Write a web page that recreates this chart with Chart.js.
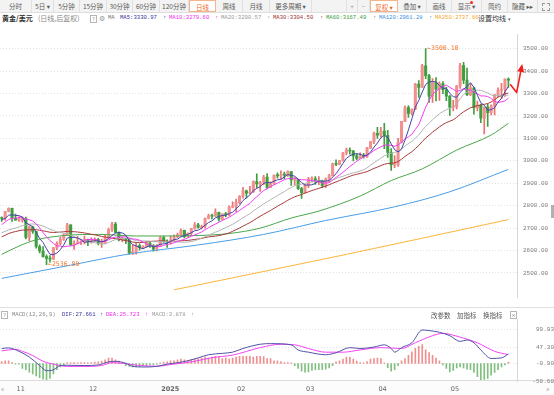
<!DOCTYPE html>
<html><head><meta charset="utf-8">
<script src="https://cdn.jsdelivr.net/npm/chart.js@4.4.1/dist/chart.umd.min.js"></script>
<style>
html,body{margin:0;padding:0;background:#fff;}
body{width:554px;height:395px;position:relative;overflow:hidden;font-family:"Noto Sans CJK SC","DejaVu Sans",sans-serif;}
.a{position:absolute;white-space:nowrap;}
#toolbar{position:absolute;left:0;top:0;width:554px;height:12px;background:#f3f3f3;border-bottom:1px solid #dedede;}
.tab{position:absolute;top:0;height:12px;line-height:12px;font-size:6.5px;color:#5a5a5a;text-align:center;border-right:1px solid #e1e1e1;box-sizing:border-box;}
.tab.on{background:#fff;color:#f26a1f;border:1px solid #f6b48c;}
.mono{font-family:"Liberation Mono","DejaVu Sans Mono",monospace;font-size:5.6px;}
.cjk{font-family:"Noto Sans CJK SC",sans-serif;}
.qbox{position:absolute;width:5px;height:6px;border:1px solid #b5b5b5;font-size:5px;line-height:6px;text-align:center;color:#888;font-family:"DejaVu Sans",sans-serif;}
</style></head>
<body>
<div id="toolbar">
  <div class="tab" style="left:0;width:32px">分时</div>
  <div class="tab" style="left:32px;width:22px">5日 ▾</div>
  <div class="tab" style="left:54px;width:26px">5分钟</div>
  <div class="tab" style="left:80px;width:27px">15分钟</div>
  <div class="tab" style="left:107px;width:26px">30分钟</div>
  <div class="tab" style="left:133px;width:27px">60分钟</div>
  <div class="tab" style="left:160px;width:29px">120分钟</div>
  <div class="tab on" style="left:189px;width:27px">日线</div>
  <div class="tab" style="left:216px;width:27px">周线</div>
  <div class="tab" style="left:243px;width:27px">月线</div>
  <div class="tab" style="left:270px;width:42px">更多周期 ▾</div>
  <div class="tab" style="left:346px;width:12px;border-left:1px solid #e1e1e1;color:#999">+</div>
  <div class="tab" style="left:358px;width:12px;color:#999">−</div>
  <div class="tab on" style="left:370px;width:28px">复权 ▾</div>
  <div class="tab" style="left:398px;width:29px">叠加 ▾</div>
  <div class="tab" style="left:427px;width:25px">画线</div>
  <div class="tab" style="left:452px;width:30px">显示 ▾</div>
  <div class="a" style="left:470px;top:1px;width:3px;height:3px;border-radius:2px;background:#f22"></div>
  <div class="tab" style="left:482px;width:26px">简约</div>
  <div class="tab" style="left:508px;width:30px">隐藏 ▸▸</div>
  <div class="a" style="left:542px;top:3px;width:6px;height:6px;border:1px dashed #999;"></div>
</div>

<div class="a cjk" style="left:2px;top:13px;height:10px;line-height:10px;font-size:7px;color:#333;font-weight:bold">黄金/美元</div>
<div class="a cjk" style="left:38px;top:13px;height:10px;line-height:10px;font-size:7px;color:#888">(日线,后复权)</div>
<div class="qbox" style="left:90px;top:14.5px">?</div>
<div class="a" style="left:99px;top:13px;line-height:10px;font-size:7px;color:#999">⚙</div>
<div class="a mono" style="left:108px;top:13px;line-height:10px;color:#777">MA</div>
<div class="a mono" style="left:120px;top:13px;line-height:10px;color:#3535a0">MA5:3330.97</div>
<div class="a mono" style="left:163px;top:13px;line-height:10px;color:#3535a0">↑</div>
<div class="a mono" style="left:169px;top:13px;line-height:10px;color:#ee2cee">MA10:3279.60</div>
<div class="a mono" style="left:215px;top:13px;line-height:10px;color:#ee2cee">↑</div>
<div class="a mono" style="left:221px;top:13px;line-height:10px;color:#999">MA20:3290.57</div>
<div class="a mono" style="left:267px;top:13px;line-height:10px;color:#999">↑</div>
<div class="a mono" style="left:273px;top:13px;line-height:10px;color:#a03030">MA30:3304.50</div>
<div class="a mono" style="left:320px;top:13px;line-height:10px;color:#a03030">↑</div>
<div class="a mono" style="left:326px;top:13px;line-height:10px;color:#3b9b3b">MA60:3167.49</div>
<div class="a mono" style="left:373px;top:13px;line-height:10px;color:#3b9b3b">↑</div>
<div class="a mono" style="left:379px;top:13px;line-height:10px;color:#3d8fe0">MA120:2961.28</div>
<div class="a mono" style="left:429px;top:13px;line-height:10px;color:#3d8fe0">↑</div>
<div class="a mono" style="left:435px;top:13px;line-height:10px;color:#f5a623">MA250:2737.66</div>
<div class="a cjk" style="left:478px;top:13px;line-height:10px;font-size:7px;color:#333;background:#fff;padding-right:2px">设置均线 <span style="font-size:5px;color:#666">▾</span></div>

<div class="a" style="left:0;top:380px;width:554px;height:15px;background:#fcfcfc;border-top:1px solid #dcdcdc;"></div>
<div class="a" style="left:0;top:307px;width:554px;height:0;border-top:1px solid #e0e0e0;"></div>
<div class="a" style="left:551px;top:205px;width:3px;height:13px;background:#b0b0b0;"></div>

<div class="a" style="left:0;top:25px;width:554px;height:282px"><canvas id="pc" width="554" height="282"></canvas></div>
<div class="a" style="left:0;top:308px;width:554px;height:87px"><canvas id="mc" width="554" height="87"></canvas></div>

<div class="qbox" style="left:1px;top:311px">?</div>
<div class="a mono" style="left:12px;top:310px;line-height:10px;color:#888">MACD(12,26,9)</div>
<div class="a mono" style="left:62px;top:310px;line-height:10px;color:#3535a0">DIF:27.661</div>
<div class="a mono" style="left:100px;top:310px;line-height:10px;color:#3535a0">↑</div>
<div class="a mono" style="left:106px;top:310px;line-height:10px;color:#ee2cee">DEA:25.723</div>
<div class="a mono" style="left:145px;top:310px;line-height:10px;color:#ee2cee">↑</div>
<div class="a mono" style="left:152px;top:310px;line-height:10px;color:#999">MACD:3.878</div>
<div class="a mono" style="left:191px;top:310px;line-height:10px;color:#999">↑</div>
<div class="a cjk" style="left:431px;top:310px;line-height:10px;font-size:6.5px;color:#555">改参数</div>
<div class="a cjk" style="left:457px;top:310px;line-height:10px;font-size:6.5px;color:#555">加指标</div>
<div class="a cjk" style="left:483px;top:310px;line-height:10px;font-size:6.5px;color:#555">换指标</div>
<div class="qbox" style="left:510px;top:311px;color:#777">×</div>
<div class="a" style="left:1px;top:383px;line-height:10px;font-size:7px;color:#999">«</div>
<div class="a" style="left:546px;top:383px;line-height:10px;font-size:7px;color:#999">»</div>

<script>
// ---- data (XAU/USD daily, 2024-10-28 .. 2025-05-26) ----
const opens = [2747,2743,2774,2788,2744,2736,2736,2742,2659,2706,2685,2618,2598,2573,2565,2562,2612,2631,2651,2670,2715,2626,2632,2637,2638,
2650,2639,2643,2650,2632,2633,2660,2694,2718,2681,2648,2652,2646,2590,2595,2622,2613,2618,2633,2621,2606,
2624,2658,2640,2636,2648,2662,2670,2690,2663,2677,2697,2715,2703,2708,2743,2755,2753,2770,2740,2763,2760,2794,
2798,2815,2842,2866,2856,2861,2908,2897,2904,2928,2882,2898,2935,2933,2939,2936,2952,2915,2916,2876,
2858,2893,2918,2920,2910,2910,2890,2917,2934,2987,2984,3001,3035,3048,3044,3022,3011,3020,3019,3057,3085,
3123,3114,3133,3114,3037,2982,2983,3083,3176,3237,3211,3230,3342,3327,3424,3380,3288,3349,3319,3344,3317,
3288,3239,3240,3334,3425,3360,3295,3325,3236,3249,3190,3240,3215,3245,3295,3315,3320,3365];
const highs = [2750,2775,2790,2789,2763,2750,2750,2749,2710,2709,2686,2626,2618,2581,2578,2614,2639,2660,2674,2721,2715,2643,2664,2645,2665,
2651,2657,2657,2654,2651,2671,2700,2726,2726,2684,2660,2655,2652,2625,2633,2630,2622,2639,2639,2627,2627,
2664,2665,2648,2665,2670,2678,2697,2691,2679,2699,2725,2721,2714,2746,2763,2763,2786,2772,2765,2770,2799,2817,
2830,2845,2882,2870,2886,2911,2942,2909,2935,2943,2906,2938,2947,2955,2950,2956,2952,2925,2918,2882,
2895,2927,2929,2930,2930,2914,2924,2940,2990,3005,3002,3038,3057,3058,3047,3032,3036,3033,3060,3087,3128,
3149,3149,3167,3136,3055,3023,3100,3176,3245,3246,3232,3345,3358,3430,3500.10,3386,3367,3371,3352,3353,3328,
3292,3270,3335,3435,3439,3414,3347,3327,3266,3253,3240,3253,3250,3295,3325,3345,3366,3370];
const lows = [2730,2735,2772,2730,2736,2730,2727,2652,2644,2676,2611,2589,2570,2536.89,2548,2560,2604,2625,2645,2667,2623,2605,2631,2626,2630,
2622,2633,2640,2625,2614,2630,2655,2685,2680,2643,2638,2631,2583,2583,2584,2602,2609,2614,2614,2597,2598,
2620,2636,2614,2630,2642,2657,2665,2656,2660,2669,2695,2700,2697,2700,2741,2741,2752,2731,2737,2750,2755,2790,
2772,2809,2834,2834,2853,2859,2880,2864,2894,2875,2881,2895,2923,2918,2920,2930,2890,2893,2873,2833,
2857,2880,2906,2895,2894,2880,2880,2905,2932,2978,2982,2998,3026,3030,3000,3004,3011,3012,3015,3055,3076,
3100,3105,3054,3015,2957,2970,2975,3080,3175,3194,3205,3228,3283,3327,3366,3260,3261,3267,3269,3300,3268,
3202,3222,3231,3323,3344,3290,3290,3208,3222,3170,3120,3154,3205,3205,3285,3277,3287,3327];
const closes = [2743,2774,2788,2744,2736,2736,2742,2659,2706,2685,2618,2598,2573,2565,2562,2612,2631,2651,2670,2715,2626,2632,2637,2638,2650,
2639,2643,2650,2632,2633,2660,2694,2718,2681,2648,2652,2646,2590,2595,2622,2613,2618,2633,2621,2606,2624,
2658,2640,2636,2648,2662,2670,2690,2663,2677,2697,2715,2703,2708,2743,2755,2753,2770,2740,2763,2760,2794,2798,
2815,2842,2866,2856,2861,2908,2897,2904,2928,2882,2898,2935,2933,2939,2936,2952,2915,2916,2876,2858,
2893,2918,2920,2910,2910,2890,2917,2934,2987,2984,3001,3035,3048,3044,3022,3011,3020,3019,3057,3085,3123,
3114,3133,3114,3037,2982,2983,3083,3176,3237,3211,3230,3342,3327,3424,3380,3288,3349,3319,3344,3317,3288,
3239,3240,3334,3425,3360,3295,3325,3236,3249,3190,3240,3215,3245,3295,3315,3320,3365,3360];
// closes of the 29 sessions before the first candle (for the moving averages)
const priorCloses = [2570,2559,2586,2622,2628,2657,2657,2672,2658,2634,2662,2657,2656,2653,2644,2622,2608,2630,2657,2649,2662,2674,2692,2721,2720,2748,2715,2736,2747];
// long moving averages: [candle index, value]
const ma60Pts  = [[0,2583],[5,2620],[10,2648],[19,2668],[28,2672],[39,2665],[47,2665],[57,2667],[66,2676],[75,2700],[84,2745],[92,2776],[104,2843],[113,2912],[122,2964],[132,3048],[142,3115],[147,3167]];
const ma120Pts = [[0,2476],[20,2535],[37,2585],[57,2625],[76,2672],[94,2734],[114,2795],[130,2862],[147,2962]];
const ma250Pts = [[50,2425],[100,2583],[147,2738]];
// MACD
const difPts = [[0,43.6],[2,45.3],[5,35.4],[8,18.9],[11,-5.8],[13,-20.7],[15,-18.2],[17,-6],[19,-5],[24,-5.8],[28,-4.1],[31,4.8],[33,6.5],[36,0.8],[38,-8.3],[41,-10],[45,-8.3],[48,-1.6],[51,2.3],[54,8.2],[57,16.4],[60,25.5],[64,29.5],[67,32.9],[70,43.6],[75,55.9],[78,57.7],[84,54.2],[86,39.4],[89,32.9],[94,25.5],[97,31.2],[101,46.1],[104,43.6],[108,47.8],[111,54.2],[113,43.6],[114,32.9],[116,46.1],[119,60.2],[122,97.2],[124,95.5],[127,90.5],[130,80.7],[133,64.1],[135,68.3],[137,60.2],[139,39.4],[142,14.7],[145,16.4],[147,27.7]];
const deaPts = [[0,36.9],[4,41.1],[6,35.4],[9,23.1],[12,6.5],[15,-1.6],[19,-8.3],[25,-8.3],[29,-5.8],[32,2.3],[35,0.8],[40,-5.8],[45,-7.6],[50,-1.6],[56,6.5],[61,17.1],[67,24.5],[75,46.1],[81,55.9],[85,54.2],[89,43.6],[94,32.9],[99,32.9],[104,39.4],[110,46.1],[116,43.6],[120,60.2],[125,80.7],[128,87.3],[133,76.5],[138,60.2],[143,35.4],[147,25.7]];
const macdHist = [6,8,8,3,-2,-2,-14,-18,-25,-30,-36,-41,-45,-47,-43,-30,-18,-10,-6,
3,2,3,2,3,3,2,3,4,5,7,11,16,16,11,7,3,-6,-8,-10,-10,-8,-6,-6,-4,-3,-2,
2,4,5,8,8,11,13,11,8,11,13,14,16,19,16,19,21,19,14,16,13,16,19,21,21,21,21,19,21,
21,20,14,14,8,8,6,3,3,2,-6,-14,-22,-25,-24,-20,-18,-18,-18,-16,-13,-6,
5,8,13,19,18,13,7,3,2,6,13,14,16,14,2,-12,-22,-18,-6,8,14,24,34,44,50,55,40,32,24,16,8,
-4,-14,-24,-20,-13,-10,-13,-16,-18,-26,-38,-47,-46,-43,-34,-26,-18,-10,-4,4];
const priceTicks = [2500,2600,2700,2800,2900,3000,3100,3200,3300,3400,3500];
const macdTicks = [-50.6,-0.9,47.3,99.93];
const monthIdx = [4,25,46,68,88,109,130];
const monthLabels = ['11','12','2025','02','03','04','05'];
const arrowPath = [[147.5,3341],[149.4,3305],[150.9,3423]];

// ---- build datasets ----
const UP='#f29090', UPW='#ea6f6f', DN='#3f9f3f';
const isUp = i => closes[i] >= opens[i];
const allC = priorCloses.concat(closes);
function ma(n){ return closes.map((c,i)=>{const e=priorCloses.length+i;let s=0;for(let k=e-n+1;k<=e;k++)s+=allC[k];return {x:i,y:s/n};}); }
const pts = a => a.map(([x,y])=>({x,y}));
const lineDs = (data,color,smooth)=>({type:'line',data,borderColor:color,borderWidth:1,pointRadius:0,fill:false,cubicInterpolationMode:smooth?'monotone':'default',tension:0});

const xScale = {type:'linear',min:-0.5,max:149.5,display:false,offset:false};

const priceMarks = {
  id:'priceMarks',
  afterDatasetsDraw(chart){
    const {ctx,scales:{x,y}} = chart;
    ctx.save();
    const hi=Math.max(...highs), hiI=highs.indexOf(hi);
    const lo=Math.min(...lows), loI=lows.indexOf(lo);
    ctx.font='6.5px "DejaVu Sans Mono"'; ctx.fillStyle='#f0782a'; ctx.textBaseline='middle'; ctx.textAlign='left';
    ctx.fillText('←'+hi.toFixed(2), x.getPixelForValue(hiI)+1.5, y.getPixelForValue(hi));
    ctx.fillText('←'+lo.toFixed(2), x.getPixelForValue(loI)+1.5, y.getPixelForValue(lo));
    const p = arrowPath.map(([i,v])=>[x.getPixelForValue(i),y.getPixelForValue(v)]);
    ctx.strokeStyle='#f21d1d'; ctx.fillStyle='#f21d1d'; ctx.lineWidth=1.6; ctx.lineJoin='round';
    ctx.beginPath(); p.forEach(([px,py],k)=>k?ctx.lineTo(px,py):ctx.moveTo(px,py)); ctx.stroke();
    const [ax,ay]=p[p.length-2],[bx,by]=p[p.length-1]; const g=Math.atan2(by-ay,bx-ax);
    const c=Math.cos(g), s=Math.sin(g);
    ctx.beginPath(); ctx.moveTo(bx+c*2,by+s*2); ctx.lineTo(bx-c*6+s*3.5,by-s*6-c*3.5); ctx.lineTo(bx-c*6-s*3.5,by-s*6+c*3.5); ctx.closePath(); ctx.fill();
    ctx.restore();
  }
};

new Chart(document.getElementById('pc'),{
  type:'bar',
  data:{datasets:[
    lineDs(ma(5),'#4343a8',false),
    lineDs(ma(10),'#f23cf2',false),
    lineDs(ma(20),'#b3b3b3',false),
    lineDs(ma(30),'#a83a3a',false),
    lineDs(pts(ma60Pts),'#4aa64a',true),
    lineDs(pts(ma120Pts),'#4a9de6',true),
    lineDs(pts(ma250Pts),'#fcb43a',true),
    {type:'bar',grouped:false,barThickness:2.4,minBarLength:1,
     data:closes.map((c,i)=>({x:i,y:[opens[i],c]})),
     backgroundColor:ctx=>isUp(ctx.dataIndex)?UP:DN},
    {type:'bar',grouped:false,barThickness:1,
     data:closes.map((c,i)=>({x:i,y:[lows[i],highs[i]]})),
     backgroundColor:ctx=>isUp(ctx.dataIndex)?UPW:DN}
  ]},
  options:{responsive:false,animation:false,events:[],
    layout:{padding:{top:0,bottom:2,left:0,right:0}},
    plugins:{legend:{display:false},tooltip:{enabled:false}},
    scales:{
      x:xScale,
      y:{position:'right',min:2391.2,max:3562.8,
        afterBuildTicks:s=>{s.ticks=priceTicks.map(v=>({value:v}));},
        afterFit:s=>{s.width=37;},
        ticks:{padding:6,color:'#7a7a7a',font:{family:'Liberation Mono',size:6},callback:v=>Number(v).toFixed(2)},
        grid:{color:'#e2e2e2',drawTicks:false},
        border:{display:true,color:'#d6d6d6',dash:[1,2]}}
    }},
  plugins:[priceMarks]
});

const monthAxis = {
  id:'monthAxis',
  afterDraw(chart){
    const {ctx,scales:{x}} = chart;
    ctx.save(); ctx.textBaseline='middle'; ctx.textAlign='left'; ctx.fillStyle='#666';
    monthIdx.forEach((i,k)=>{
      ctx.font=(monthLabels[k]==='2025'?'bold ':'')+'6.5px "DejaVu Sans"';
      ctx.fillText(monthLabels[k], x.getPixelForValue(i)+1, 81);
    });
    ctx.restore();
  }
};

new Chart(document.getElementById('mc'),{
  type:'bar',
  data:{datasets:[
    lineDs(pts(difPts),'#5252a8',true),
    lineDs(pts(deaPts),'#f442f4',true),
    {type:'bar',grouped:false,barThickness:1,
     data:macdHist.map((v,i)=>({x:i,y:v})),
     backgroundColor:ctx=>ctx.raw.y>=0?'#ef8f8f':'#7fbf7f'}
  ]},
  options:{responsive:false,animation:false,events:[],
    layout:{padding:{top:1,bottom:14,left:0,right:0}},
    plugins:{legend:{display:false},tooltip:{enabled:false}},
    scales:{
      x:xScale,
      y:{position:'right',min:-50.6,max:127.3,
        afterBuildTicks:s=>{s.ticks=macdTicks.map(v=>({value:v}));},
        afterFit:s=>{s.width=37;},
        ticks:{padding:8,crossAlign:'far',color:'#7a7a7a',font:{family:'Liberation Mono',size:6},callback:v=>Number(v).toFixed(2)},
        grid:{color:c=>c.tick&&c.tick.value===-50.6?'rgba(0,0,0,0)':'#e2e2e2',drawTicks:false},
        border:{display:true,color:'#d6d6d6',dash:[1,2]}}
    }},
  plugins:[monthAxis]
});
</script>
</body></html>
